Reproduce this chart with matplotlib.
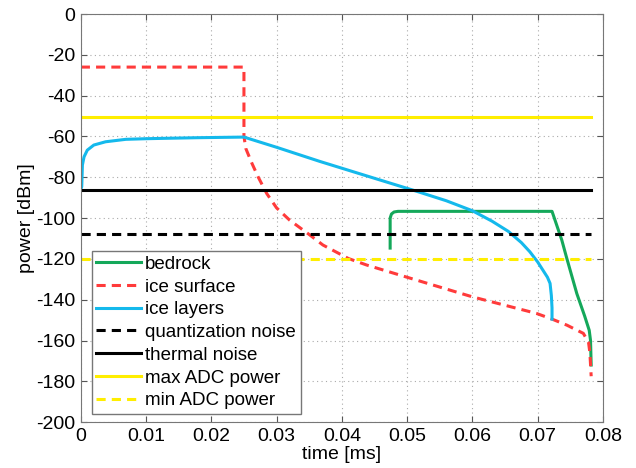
import numpy as np
import matplotlib
matplotlib.use('Agg')
from matplotlib import pyplot as plt

plt.rcParams['font.family'] = ['Liberation Sans', 'DejaVu Sans']
plt.rcParams['axes.unicode_minus'] = False

# bedrock echo
bed_t = [0.0474, 0.0474, 0.0476, 0.0480, 0.0486, 0.0600, 0.0722, 0.0737, 0.0744, 0.0760, 0.0772, 0.0779, 0.0781, 0.0782]
bed_p = [-114.7, -100.0, -98.0, -97.0, -96.7, -96.7, -96.7, -110.8, -119.0, -137.0, -148.0, -155.0, -160.0, -172.0]

# ice surface echo
surf_t = [0.0, 0.025, 0.025, 0.0253, 0.0262, 0.0272, 0.0285, 0.0300, 0.0320, 0.0351, 0.0371, 0.0410, 0.0438,
          0.0500, 0.0600, 0.0698, 0.0722, 0.0745, 0.0770, 0.0778, 0.0780, 0.0782]
surf_p = [-26.0, -26.0, -60.0, -66.0, -73.0, -80.0, -88.0, -95.0, -101.0, -108.3, -113.2, -119.8, -123.0,
          -129.0, -138.6, -146.7, -149.5, -152.5, -156.5, -161.0, -166.0, -177.5]

# ice layers
lay_t = [0.0, 0.00015, 0.00025, 0.0005, 0.001, 0.002, 0.0038, 0.0069, 0.010, 0.013, 0.018, 0.025,
         0.030, 0.0366, 0.045, 0.0514, 0.056, 0.060, 0.063, 0.0655, 0.0675, 0.0688, 0.0700, 0.0708,
         0.0715, 0.0719, 0.0721, 0.0722, 0.0722]
lay_p = [-86.0, -84.6, -74.0, -70.0, -66.7, -64.2, -62.6, -61.4, -61.1, -60.9, -60.6, -60.3,
         -65.3, -72.2, -80.5, -86.8, -91.5, -96.4, -101.5, -106.5, -112.0, -116.5, -121.5, -125.5,
         -129.0, -132.0, -138.0, -144.0, -149.5]

# constant levels [dBm]
t_span = [0.0, 0.0782]
quant_noise = -108.0
thermal_noise = -86.3
max_adc = -50.6
min_adc = -120.0

fig = plt.figure(figsize=(6.36, 4.68), dpi=100)
ax = fig.add_axes([0.127, 0.098, 0.821, 0.872])

green = '#14a85a'
red = '#ff3b3b'
blue = '#14b9ec'
yellow = '#ffee00'
lw = 2.2
dash = (0, (3.0, 2.0))

ax.plot(bed_t, bed_p, color=green, lw=lw, label='bedrock')
ax.plot(surf_t, surf_p, color=red, lw=lw, linestyle=dash, label='ice surface')
ax.plot(lay_t, lay_p, color=blue, lw=lw, label='ice layers')
ax.plot(t_span, [quant_noise] * 2, color='black', lw=lw, linestyle=dash, label='quantization noise')
ax.plot(t_span, [thermal_noise] * 2, color='black', lw=lw, label='thermal noise')
ax.plot(t_span, [max_adc] * 2, color=yellow, lw=lw, label='max ADC power')
ax.plot(t_span, [min_adc] * 2, color=yellow, lw=lw, linestyle=dash, label='min ADC power')

ax.set_xlim(0, 0.08)
ax.set_ylim(-200, 0)
xt = np.arange(0, 0.0801, 0.01)
ax.set_xticks(xt)
ax.set_xticklabels(['0'] + ['%.2f' % v for v in xt[1:]])
ax.set_yticks(np.arange(-200, 1, 20))
ax.tick_params(direction='in', top=True, right=True, labelsize=14, length=4, color='#555555', pad=4)
ax.grid(True, linestyle=(0, (1, 3)), color='#aaaaaa', lw=0.8)
for s in ax.spines.values():
    s.set_color('#777777')

ax.set_xlabel('time [ms]', fontsize=14, labelpad=1)
ax.set_ylabel('power [dBm]', fontsize=14, labelpad=1)

leg = ax.legend(loc='lower left', bbox_to_anchor=(0.021, 0.02), borderaxespad=0, fontsize=13.5,
                handlelength=2.4, handletextpad=0.2, labelspacing=0.3, borderpad=0.25,
                fancybox=False, framealpha=1)
leg.get_frame().set_edgecolor('#777777')
leg.get_frame().set_linewidth(1.0)

fig.savefig('out.png', dpi=100)
